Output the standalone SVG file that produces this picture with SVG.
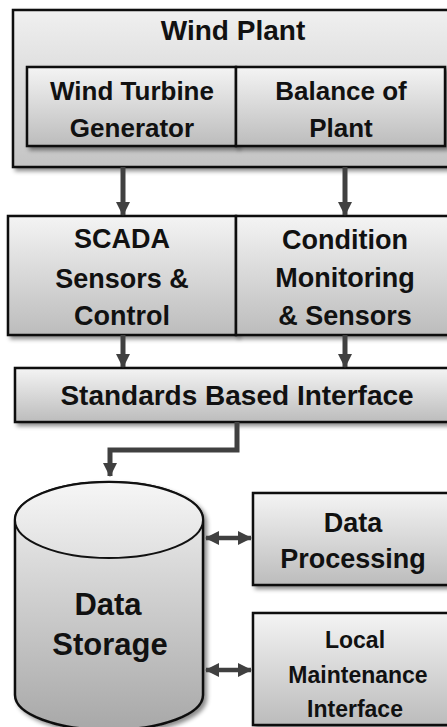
<svg xmlns="http://www.w3.org/2000/svg" width="447" height="727" viewBox="0 0 447 727">
<style>
.box{stroke:#111;stroke-width:2.5;fill:url(#g);filter:url(#sh)}
.outer{stroke:#111;stroke-width:2.5;fill:url(#go);filter:url(#sh)}
.t{font-family:"Liberation Sans",Arial,sans-serif;font-weight:bold;fill:#111;text-anchor:middle}
.c{stroke:#404040;stroke-width:5;fill:none}
.c2{stroke:#404040;stroke-width:4.5;fill:none}
</style>
<defs>
<linearGradient id="g" x1="0" y1="0" x2="0" y2="1">
<stop offset="0" stop-color="#f4f4f4"/>
<stop offset="1" stop-color="#bcbcbc"/>
</linearGradient>
<linearGradient id="go" x1="0" y1="0" x2="0" y2="1">
<stop offset="0" stop-color="#f0f0f0"/>
<stop offset="1" stop-color="#c4c4c4"/>
</linearGradient>
<linearGradient id="gc" x1="0" y1="0" x2="0" y2="1">
<stop offset="0" stop-color="#f2f2f2"/>
<stop offset="1" stop-color="#a8a8a8"/>
</linearGradient>
<linearGradient id="gt" x1="0" y1="0" x2="0" y2="1">
<stop offset="0" stop-color="#f6f6f6"/>
<stop offset="1" stop-color="#e0e0e0"/>
</linearGradient>
<filter id="sh" x="-10%" y="-10%" width="130%" height="130%">
<feDropShadow dx="3" dy="3" stdDeviation="2" flood-color="#000" flood-opacity="0.45"/>
</filter>
<marker id="ah" markerUnits="userSpaceOnUse" markerWidth="16" markerHeight="16" viewBox="0 0 16 16" refX="14" refY="8" orient="auto-start-reverse">
<path d="M1,1 L15,8 L1,15 Z" fill="#404040"/>
</marker>
</defs>

<g id="wind-plant">
<rect class="outer" x="13" y="10" width="450" height="157"/>
<text class="t" x="233" y="40" font-size="28">Wind Plant</text>
</g>
<g id="wind-turbine-generator">
<rect class="box" x="27" y="67" width="209" height="79"/>
<text class="t" x="132" y="100" font-size="26">Wind Turbine</text>
<text class="t" x="132" y="137" font-size="26">Generator</text>
</g>
<g id="balance-of-plant">
<rect class="box" x="236" y="67" width="209" height="79"/>
<text class="t" x="341" y="100" font-size="26">Balance of</text>
<text class="t" x="341" y="137" font-size="26">Plant</text>
</g>
<g id="scada">
<rect class="box" x="8" y="216" width="228" height="119"/>
<text class="t" x="122" y="248" font-size="27">SCADA</text>
<text class="t" x="122" y="288" font-size="27">Sensors &amp;</text>
<text class="t" x="122" y="325" font-size="27">Control</text>
</g>
<g id="condition-monitoring">
<rect class="box" x="236" y="216" width="225" height="119"/>
<text class="t" x="345" y="249" font-size="27">Condition</text>
<text class="t" x="345" y="287" font-size="27">Monitoring</text>
<text class="t" x="345" y="325" font-size="27">&amp; Sensors</text>
</g>
<g id="standards-interface">
<rect class="box" x="15" y="368" width="445" height="54"/>
<text class="t" x="237" y="405" font-size="28">Standards Based Interface</text>
</g>
<g id="data-storage">
<path d="M15,520 A94,38 0 0 1 203,520 L203,695 A94,35 0 0 1 15,695 Z" fill="url(#gc)" stroke="#111" stroke-width="2.5" filter="url(#sh)"/>
<ellipse cx="109" cy="520" rx="94" ry="38" fill="url(#gt)" stroke="#111" stroke-width="2"/>
<text class="t" x="108" y="615" font-size="31">Data</text>
<text class="t" x="110" y="655" font-size="31">Storage</text>
</g>
<g id="data-processing">
<rect class="box" x="253" y="493" width="205" height="92"/>
<text class="t" x="353" y="532" font-size="27">Data</text>
<text class="t" x="353" y="568" font-size="27">Processing</text>
</g>
<g id="local-maintenance">
<rect class="box" x="253" y="613" width="205" height="112"/>
<text class="t" x="355" y="648" font-size="23">Local</text>
<text class="t" x="358" y="683" font-size="23">Maintenance</text>
<text class="t" x="355" y="717" font-size="23">Interface</text>
</g>

<g id="connectors">
<path class="c" d="M123,167 L123,215" marker-end="url(#ah)"/>
<path class="c" d="M345,167 L345,215" marker-end="url(#ah)"/>
<path class="c" d="M123,335 L123,367" marker-end="url(#ah)"/>
<path class="c" d="M345,335 L345,367" marker-end="url(#ah)"/>
<path class="c" d="M237,422 L237,450 L110,450 L110,476" marker-end="url(#ah)"/>
<path class="c2" d="M206,538 L251,538" marker-start="url(#ah)" marker-end="url(#ah)"/>
<path class="c2" d="M206,670 L251,670" marker-start="url(#ah)" marker-end="url(#ah)"/>
</g>
</svg>
